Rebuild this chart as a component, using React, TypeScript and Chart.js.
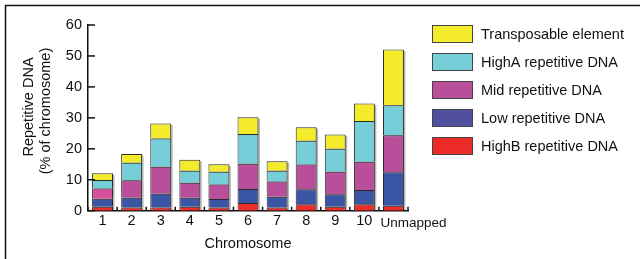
import React, { useEffect, useRef } from "react";
import { Chart, registerables } from "chart.js";

Chart.register(...registerables);

const categories = ["1", "2", "3", "4", "5", "6", "7", "8", "9", "10", "Unmapped"];
const highB = [1.3, 1.0, 1.0, 1.3, 1.0, 2.5, 1.0, 2.1, 1.3, 2.1, 1.6];
const lowRep = [2.6, 3.2, 4.5, 2.9, 2.8, 4.5, 3.5, 4.8, 4.0, 4.6, 10.8];
const midRep = [3.3, 5.6, 8.7, 4.8, 4.7, 8.2, 4.9, 8.0, 7.3, 9.1, 12.0];
const highA = [2.7, 5.7, 9.1, 3.9, 4.1, 9.6, 3.5, 7.7, 7.4, 13.2, 9.7];
const transposable = [2.2, 2.8, 4.9, 3.6, 2.4, 5.4, 3.1, 4.4, 4.6, 5.6, 18.0];
const yTicks = [0, 10, 20, 30, 40, 50, 60];

const FONT = "'Liberation Sans', Arial, Helvetica, sans-serif";
const INK = "#111";

const legendItems = [
  { label: "Transposable element", color: "#f4ec2b" },
  { label: "HighA repetitive DNA", color: "#76cfd8" },
  { label: "Mid repetitive DNA", color: "#b94f9b" },
  { label: "Low repetitive DNA", color: "#514f9f" },
  { label: "HighB repetitive DNA", color: "#ec2a28" },
];

const decorPlugin = {
  id: "decor",
  beforeDatasetsDraw(chart: any) {
    const ctx = chart.ctx;
    const top = chart.getDatasetMeta(chart.data.datasets.length - 1).data;
    const bottom = chart.getDatasetMeta(0).data;
    ctx.save();
    ctx.fillStyle = "rgba(0,0,0,0.28)";
    top.forEach((bar: any, i: number) => {
      const b = bottom[i];
      const w = bar.width;
      const left = bar.x - w / 2;
      const base = b.base;
      ctx.fillRect(left + 1.5, bar.y + 1.5, w, base - bar.y - 1.5);
    });
    ctx.restore();
  },
  afterDraw(chart: any) {
    const ctx = chart.ctx;
    const area = chart.chartArea;
    const ys = chart.scales.y;
    const xs = chart.scales.x;
    const step = xs.getPixelForValue(1) - xs.getPixelForValue(0);
    ctx.save();
    ctx.strokeStyle = INK;
    ctx.lineWidth = 1.5;
    // y tick marks (inward)
    yTicks.forEach((v) => {
      const y = ys.getPixelForValue(v);
      ctx.beginPath();
      ctx.moveTo(area.left, y);
      ctx.lineTo(area.left + 7, y);
      ctx.stroke();
    });
    // x tick marks at category boundaries (inward)
    for (let i = 0; i <= categories.length; i++) {
      const x = xs.getPixelForValue(0) - step / 2 + i * step;
      ctx.beginPath();
      ctx.moveTo(x, area.bottom);
      ctx.lineTo(x, area.bottom - 4);
      ctx.stroke();
    }
    // frame lines
    ctx.strokeStyle = "#111";
    ctx.beginPath();
    ctx.moveTo(5, 5.5);
    ctx.lineTo(640, 5.5);
    ctx.moveTo(5.5, 5);
    ctx.lineTo(5.5, 259);
    ctx.stroke();

    ctx.fillStyle = INK;
    ctx.textAlign = "left";
    ctx.textBaseline = "alphabetic";
    // last category label, set to the right of its bar as in the reference
    ctx.font = `13.5px ${FONT}`;
    ctx.fillText(categories[categories.length - 1], xs.getPixelForValue(categories.length - 1) - 13, 226.5);

    // axis titles
    ctx.font = `14.5px ${FONT}`;
    ctx.textAlign = "center";
    ctx.fillText("Chromosome", (area.left + area.right) / 2, 248);

    ctx.save();
    ctx.translate(32.5, 107);
    ctx.rotate(-Math.PI / 2);
    ctx.fillText("Repetitive DNA", 0, 0);
    ctx.restore();
    ctx.save();
    ctx.translate(49.5, 111);
    ctx.rotate(-Math.PI / 2);
    ctx.fillText("(% of chromosome)", 0, 0);
    ctx.restore();

    // legend
    ctx.textAlign = "left";
    ctx.textBaseline = "middle";
    legendItems.forEach((it, i) => {
      const top = 25 + i * 28;
      ctx.fillStyle = it.color;
      ctx.fillRect(432, top, 41, 18);
      ctx.strokeStyle = "#444";
      ctx.lineWidth = 1;
      ctx.strokeRect(432.5, top + 0.5, 40, 17);
      ctx.fillStyle = INK;
      ctx.fillText(it.label, 481, top + 10);
    });
    ctx.restore();
  },
};

export default function App() {
  const ref = useRef<HTMLCanvasElement | null>(null);

  useEffect(() => {
    if (!ref.current) return;
    const midColors = midRep.map((_, i) => (i === 0 ? "#d7509e" : "#b94f9b"));
    const common = { borderColor: "#2a2a2a", borderWidth: 1, barPercentage: 0.72, categoryPercentage: 1 };
    const chart = new Chart(ref.current, {
      type: "bar",
      data: {
        labels: categories,
        datasets: [
          { label: "HighB repetitive DNA", data: highB, backgroundColor: "#ec2d2a", ...common },
          { label: "Low repetitive DNA", data: lowRep, backgroundColor: "#3a55a4", ...common },
          { label: "Mid repetitive DNA", data: midRep, backgroundColor: midColors, ...common },
          { label: "HighA repetitive DNA", data: highA, backgroundColor: "#76cfd8", ...common },
          { label: "Transposable element", data: transposable, backgroundColor: "#f4ec2b", ...common },
        ],
      },
      options: {
        responsive: false,
        animation: false,
        devicePixelRatio: 1,
        layout: { padding: { left: 0, right: 232, top: 25, bottom: 0 } },
        plugins: { legend: { display: false }, tooltip: { enabled: false }, title: { display: false } },
        scales: {
          x: {
            stacked: true,
            grid: { display: false, drawTicks: false },
            border: { display: true, color: INK, width: 1.5 },
            ticks: {
              color: INK,
              font: { family: FONT, size: 14.5 },
              padding: 2,
              maxRotation: 0,
              autoSkip: false,
              callback: (_v: any, i: number) => (i === categories.length - 1 ? "" : categories[i]),
            },
            afterFit: (s: any) => { s.height = 48.3; },
          },
          y: {
            stacked: true,
            min: 0,
            max: 60,
            grid: { display: false, drawTicks: false },
            border: { display: true, color: INK, width: 1.5 },
            ticks: { stepSize: 10, color: INK, font: { family: FONT, size: 14.5 }, padding: 6 },
            afterFit: (s: any) => { s.width = 88; },
          },
        },
      },
      plugins: [decorPlugin],
    });
    return () => chart.destroy();
  }, []);

  return (
    <div style={{ position: "absolute", left: 0, top: 0, width: 640, height: 259, background: "#fff" }}>
      <canvas ref={ref} width={640} height={259} style={{ display: "block", width: 640, height: 259 }} />
    </div>
  );
}
